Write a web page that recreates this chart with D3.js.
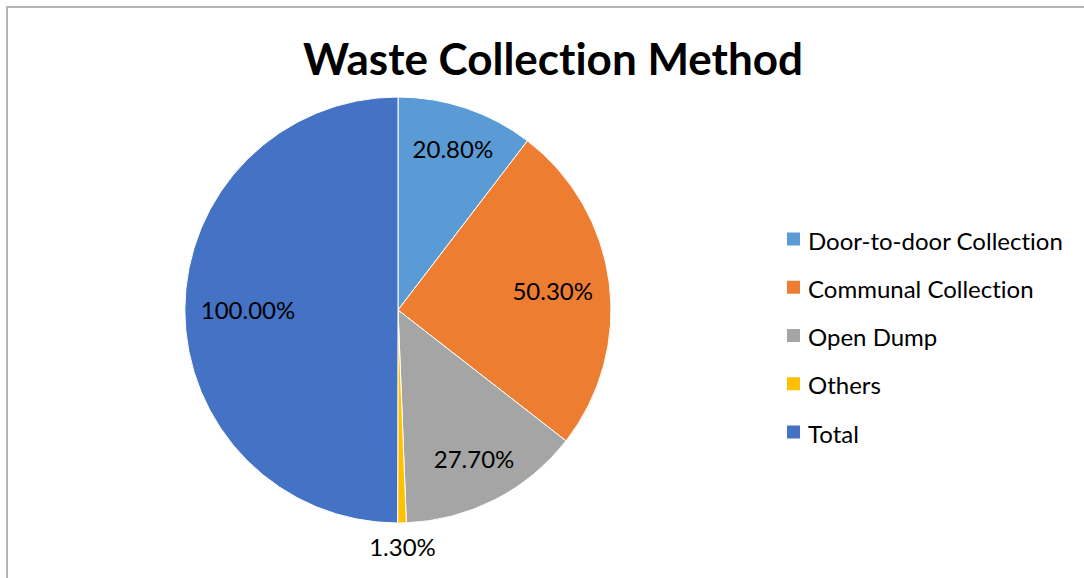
<!DOCTYPE html>
<html>
<head>
<meta charset="utf-8">
<script src="https://cdn.jsdelivr.net/npm/d3@7"></script>
<style>
  body { margin: 0; background: #fff; }
  svg { display: block; font-family: Lato, "Open Sans", sans-serif; font-variant-ligatures: none; }
</style>
</head>
<body>
<div id="chart"></div>
<script>
// data
const categories = ["Door-to-door Collection", "Communal Collection", "Open Dump", "Others", "Total"];
const values = [20.8, 50.3, 27.7, 1.3, 100.0];
const colors = ["#5B9BD5", "#ED7D31", "#A5A5A5", "#FFC000", "#4472C4"];
const title = "Waste Collection Method";

const width = 1084, height = 578;
const cx = 398, cy = 310, radius = 213;

const svg = d3.select("#chart").append("svg")
  .attr("width", width)
  .attr("height", height);

// chart frame (runs off right / bottom)
svg.append("rect")
  .attr("x", 7).attr("y", 7)
  .attr("width", width + 20).attr("height", height + 20)
  .attr("fill", "none")
  .attr("stroke", "#b4b4b4")
  .attr("stroke-width", 2);

svg.append("text")
  .attr("x", 553).attr("y", 75)
  .attr("text-anchor", "middle")
  .attr("font-size", 44)
  .attr("font-weight", "bold")
  .attr("fill", "#000")
  .text(title);

const color = d3.scaleOrdinal().domain(categories).range(colors);

const data = categories.map((c, i) => ({ name: c, value: values[i] }));
const pie = d3.pie().value(d => d.value).sort(null);
const arcs = pie(data);
const arc = d3.arc().innerRadius(0).outerRadius(radius);

const g = svg.append("g").attr("transform", `translate(${cx},${cy})`);

g.selectAll("path")
  .data(arcs)
  .join("path")
  .attr("d", arc)
  .attr("fill", d => color(d.data.name))
  .attr("stroke", "#fff")
  .attr("stroke-width", 1);

// data labels: best fit inside, outside end if slice too thin
const fmt = d => d.toFixed(2) + "%";
const labels = g.selectAll("text.lbl")
  .data(arcs)
  .join("text")
  .attr("class", "lbl")
  .attr("font-size", 24)
  .attr("fill", "#000")
  .attr("text-anchor", "middle")
  .attr("dominant-baseline", "central")
  .text(d => fmt(d.data.value));

labels.each(function(d) {
  const bb = this.getBBox();
  const w = bb.width / 2, h = bb.height / 2 - 3;
  const a = (d.startAngle + d.endAngle) / 2;
  const ux = Math.sin(a), uy = -Math.cos(a);
  let dist;
  if (d.endAngle - d.startAngle < 0.2) {
    dist = radius + 12 + h;
  } else {
    // push the label outward until its farthest corner sits just inside the rim
    const target = radius - 15;
    dist = 0;
    for (let t = 0; t < radius; t += 0.5) {
      const px = ux * t + Math.sign(ux) * w;
      const py = uy * t + Math.sign(uy) * h;
      if (Math.hypot(px, py) > target) break;
      dist = t;
    }
  }
  d3.select(this).attr("x", ux * dist).attr("y", uy * dist);
});

// legend
const ly = d3.scalePoint().domain(categories).range([239, 432]);
const legend = svg.append("g")
  .selectAll("g")
  .data(categories)
  .join("g")
  .attr("transform", d => `translate(787,${ly(d)})`);

legend.append("rect")
  .attr("x", 0).attr("y", -6.5)
  .attr("width", 13).attr("height", 13)
  .attr("fill", d => color(d));

legend.append("text")
  .attr("x", 21).attr("y", 1)
  .attr("dominant-baseline", "central")
  .attr("font-size", 24)
  .attr("fill", "#000")
  .text(d => d);
</script>
</body>
</html>
